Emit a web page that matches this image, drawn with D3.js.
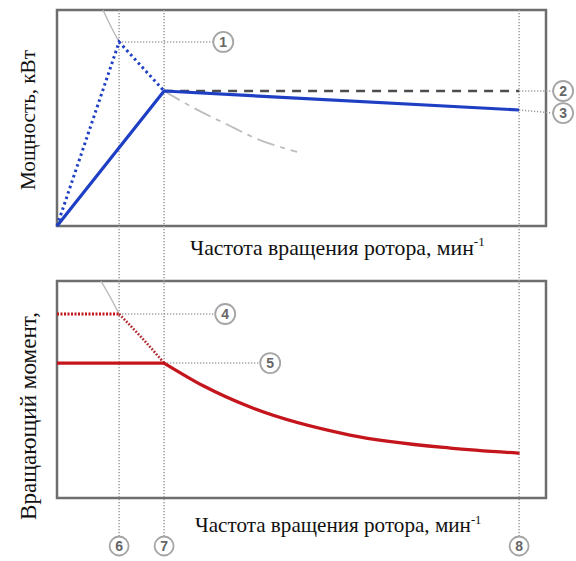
<!DOCTYPE html>
<html>
<head>
<meta charset="utf-8">
<script src="https://cdn.jsdelivr.net/npm/d3@7/dist/d3.min.js"></script>
<style>
  html, body { margin: 0; padding: 0; background: #fff; }
  svg { display: block; }
</style>
</head>
<body>
<svg id="chart" width="576" height="561"></svg>
<script>
// Rotor speed in relative units (0..100 across the frame)
const speedMarks = ["6", "7", "8"];
const speedMarkX = [12.7, 21.9, 94.5];

// Power panel, relative units
const powerRated = [[0, 0], [21.9, 62.5], [94.5, 53.7]];
const powerBoost = [[0, 0], [12.7, 85.2], [21.9, 62.5]];
const powerNominal = [[21.9, 62.5], [94.5, 62.5]];
const powerLimitTop = [[9.4, 100], [11.0, 92.5], [12.7, 85.2]];
const powerLimitTail = [[21.9, 62.5], [27.2, 55.6], [35.4, 46.3], [40.5, 40.7], [49.1, 34.3]];

// Torque panel, relative units
const torqueBoostFlat = [[0, 84.8], [12.7, 84.8]];
const torqueBoostCurve = [[12.7, 84.8], [17.4, 73.7], [21.9, 62.2]];
const torqueRatedFlat = [[0, 62.2], [21.9, 62.2]];
const torqueRatedCurve = [[21.9, 62.2], [30.0, 51.6], [39.5, 41.9], [59.9, 29.0], [80.4, 23.0], [94.3, 20.7]];
const torqueLimitTop = [[9.0, 100], [10.9, 92.5], [12.7, 84.8]];

// Callouts: [label, anchor point, bubble position] per panel
const powerCallouts = [
  ["1", [12.7, 85.2], [34.0, 85.2]],
  ["2", [94.5, 62.5], [103.5, 62.5]],
  ["3", [94.5, 53.7], [103.5, 52.3]]
];
const torqueCallouts = [
  ["4", [12.7, 84.8], [34.4, 84.8]],
  ["5", [21.9, 62.2], [43.6, 62.2]]
];

const axisTitleX = "Частота вращения ротора, мин";
const axisTitleY = ["Мощность, кВт", "Вращающий момент,"];

const serif = "'Liberation Serif', 'Times New Roman', Times, serif";
const sans = "'Liberation Sans', Arial, 'DejaVu Sans', sans-serif";

const svg = d3.select("#chart");

const x = d3.scaleLinear().domain([0, 100]).range([57, 546]);
const yPower = d3.scaleLinear().domain([0, 100]).range([226, 10]);
const yTorque = d3.scaleLinear().domain([0, 100]).range([498, 281]);

const blue = "#1e3fc4";
const red = "#c4141c";
const grid = "#9a9a9a";

function lineFor(y, curve) {
  return d3.line().x(d => x(d[0])).y(d => y(d[1])).curve(curve || d3.curveLinear);
}

// Frames
[yPower, yTorque].forEach(y => {
  svg.append("rect")
    .attr("x", x(0)).attr("y", y(100))
    .attr("width", x(100) - x(0)).attr("height", y(0) - y(100))
    .attr("fill", "none").attr("stroke", "#6e6e6e").attr("stroke-width", 2.5);
});

// Vertical speed guides running down to the speed markers
const markerY = 546;
speedMarkX.forEach(v => {
  svg.append("line")
    .attr("x1", x(v)).attr("x2", x(v))
    .attr("y1", yPower(100)).attr("y2", markerY - 9)
    .attr("stroke", grid).attr("stroke-width", 1.5)
    .attr("stroke-dasharray", "1.2,1.8");
});

// Callout leader lines
function leaders(y, list) {
  list.forEach(([, a, b]) => {
    svg.append("line")
      .attr("x1", x(a[0])).attr("y1", y(a[1]))
      .attr("x2", x(b[0]) - 10).attr("y2", y(b[1]))
      .attr("stroke", grid).attr("stroke-width", 1.5)
      .attr("stroke-dasharray", "1.2,1.8");
  });
}
leaders(yPower, powerCallouts);
leaders(yTorque, torqueCallouts);

// Power panel curves
svg.append("path").datum(powerLimitTop)
  .attr("d", lineFor(yPower, d3.curveMonotoneX))
  .attr("fill", "none").attr("stroke", "#b5b5b5").attr("stroke-width", 1.3);
svg.append("path").datum(powerLimitTail)
  .attr("d", lineFor(yPower, d3.curveMonotoneX))
  .attr("fill", "none").attr("stroke", "#bdbdbd").attr("stroke-width", 1.8)
  .attr("stroke-dasharray", "18,6,5,6");
svg.append("path").datum(powerNominal)
  .attr("d", lineFor(yPower))
  .attr("fill", "none").attr("stroke", "#4d4d4d").attr("stroke-width", 2.5)
  .attr("stroke-dasharray", "9,7");
svg.append("path").datum(powerBoost)
  .attr("d", lineFor(yPower))
  .attr("fill", "none").attr("stroke", blue).attr("stroke-width", 3)
  .attr("stroke-dasharray", "2.5,3.2");
svg.append("path").datum(powerRated)
  .attr("d", lineFor(yPower))
  .attr("fill", "none").attr("stroke", blue).attr("stroke-width", 3.2)
  .attr("stroke-linejoin", "round");

// Torque panel curves
svg.append("path").datum(torqueLimitTop)
  .attr("d", lineFor(yTorque, d3.curveMonotoneX))
  .attr("fill", "none").attr("stroke", "#b5b5b5").attr("stroke-width", 1.3);
svg.append("path").datum(torqueBoostFlat)
  .attr("d", lineFor(yTorque))
  .attr("fill", "none").attr("stroke", red).attr("stroke-width", 3)
  .attr("stroke-dasharray", "2,1.5");
svg.append("path").datum(torqueBoostCurve)
  .attr("d", lineFor(yTorque, d3.curveMonotoneX))
  .attr("fill", "none").attr("stroke", "#b02e35").attr("stroke-width", 2.6)
  .attr("stroke-dasharray", "1.8,1.6");
svg.append("path").datum(torqueRatedFlat)
  .attr("d", lineFor(yTorque))
  .attr("fill", "none").attr("stroke", red).attr("stroke-width", 3.2);
svg.append("path").datum(torqueRatedCurve)
  .attr("d", lineFor(yTorque, d3.curveMonotoneX))
  .attr("fill", "none").attr("stroke", red).attr("stroke-width", 3.2)
  .attr("stroke-linecap", "round");

// Numbered bubbles
function bubble(cx, cy, label, r) {
  const g = svg.append("g");
  g.append("circle").attr("cx", cx).attr("cy", cy).attr("r", r)
    .attr("fill", "#fff").attr("stroke", "#a5a5a5").attr("stroke-width", 1.8);
  g.append("text").attr("x", cx).attr("y", cy + 5)
    .attr("text-anchor", "middle")
    .attr("font-family", sans).attr("font-weight", "bold")
    .attr("font-size", 14).attr("fill", "#666").text(label);
}
powerCallouts.forEach(([l, , b]) => bubble(x(b[0]), yPower(b[1]), l, 10));
torqueCallouts.forEach(([l, , b]) => bubble(x(b[0]), yTorque(b[1]), l, 10));
speedMarks.forEach((l, i) => bubble(x(speedMarkX[i]), markerY, l, 9.5));

// Scale a text element's font so its main run spans the given width
function fitWidth(sel, node, width, base) {
  const w = node.getComputedTextLength();
  const size = w > 0 ? base * width / w : base;
  sel.attr("font-size", size);
  return size;
}

// Axis titles
function xTitle(yBase, startX, width) {
  const t = svg.append("text")
    .attr("x", startX).attr("y", yBase)
    .attr("font-family", serif).attr("fill", "#111")
    .attr("font-size", 18);
  const main = t.append("tspan").text(axisTitleX);
  const size = fitWidth(t, main.node(), width, 18);
  t.append("tspan").attr("dy", -size * 0.4).attr("font-size", size * 0.6).text("-1");
}
xTitle(255, 190, 284);
xTitle(532, 195, 276);

function yTitle(cx, cy, label, width) {
  const t = svg.append("text")
    .attr("transform", `translate(${cx},${cy}) rotate(-90)`)
    .attr("text-anchor", "middle")
    .attr("font-family", serif).attr("fill", "#111")
    .attr("font-size", 19).text(label);
  fitWidth(t, t.node(), width, 19);
}
yTitle(35, 120, axisTitleY[0], 140);
yTitle(36, 416, axisTitleY[1], 208);
</script>
</body>
</html>
